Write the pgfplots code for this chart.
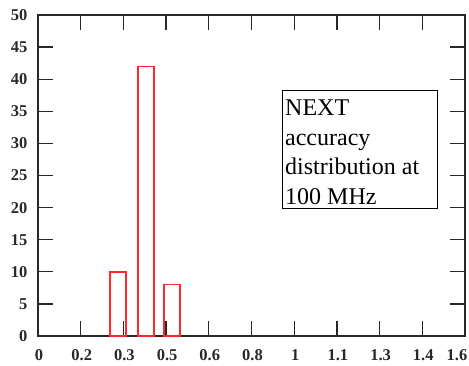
\documentclass[border=0pt]{standalone}
\usepackage{fontspec}
\setmainfont{Liberation Serif}
\usepackage{pgfplots}
\pgfplotsset{compat=1.18}
\definecolor{barred}{RGB}{255,40,40}
\definecolor{axgray}{RGB}{40,40,40}
\begin{document}
\begin{tikzpicture}
\useasboundingbox (-38bp,-30bp) rectangle (431bp,336bp);
\begin{axis}[
  scale only axis,
  width=427bp, height=321bp,
  xmin=0, xmax=1.6, ymin=0, ymax=50,
  axis line style={axgray, line width=1.3bp},
  every tick/.style={axgray, line width=1.3bp},
  tick align=inside,
  tick pos=both,
  ticklabel pos=left,
  major tick length=15bp,
  xtick={0,0.16,0.32,0.48,0.64,0.8,0.96,1.12,1.28,1.44},
  xticklabels={0,0.2,0.3,0.5,0.6,0.8,1,1.1,1.3,1.4},
  extra x ticks={1.6},
  extra x tick labels={1.6},
  extra x tick style={xticklabel style={xshift=-9bp}},
  ytick={0,5,...,50},
  /pgf/number format/assume math mode=true,
  ticklabel style={font=\fontsize{16.5bp}{18bp}\selectfont\bfseries, text=axgray},
  xticklabel style={yshift=-10bp, xshift=1bp},
  yticklabel style={xshift=-7bp},
  clip=false,
]
\addplot[ybar, bar width=0.06, draw=barred, fill=none, line width=1.5bp]
  coordinates {(0.30,10) (0.405,42) (0.502,8)};
\node[draw=black, line width=1bp, anchor=north west, inner sep=0pt,
      minimum width=155bp, minimum height=118bp] (box)
  at (rel axis cs:0.5714,0.7664) {};
\node[anchor=base west, align=left, inner sep=0pt,
      font=\fontsize{24bp}{29.5bp}\selectfont]
  at ([xshift=3bp,yshift=-114.5bp]box.north west)
  {NEXT\\accuracy\\distribution at\\100 MHz};
\end{axis}
\end{tikzpicture}
\end{document}
